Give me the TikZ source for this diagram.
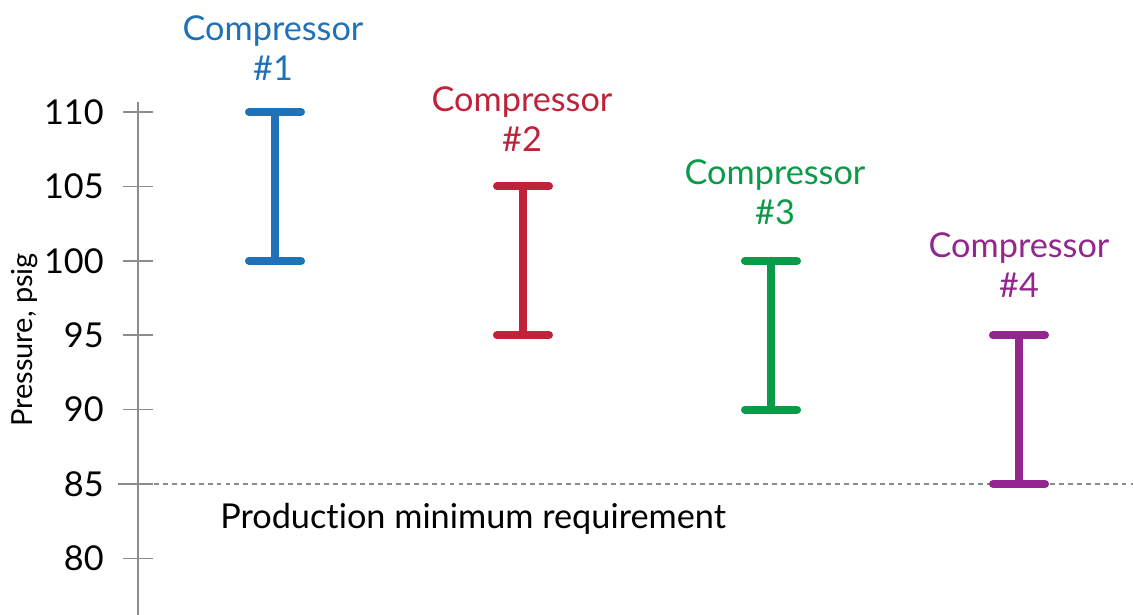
\documentclass[tikz,border=0pt]{standalone}
\usepackage{fontspec}
\setmainfont{Lato}[Ligatures=NoCommon]
\usetikzlibrary{calc}

\definecolor{compblue}{HTML}{1F72B8}
\definecolor{compred}{HTML}{C0223A}
\definecolor{compgreen}{HTML}{0A9A48}
\definecolor{comppurple}{HTML}{93278F}
\definecolor{axisgray}{HTML}{8C8C8C}

\begin{document}
\begin{tikzpicture}[x=0.02cm, y=0.2976cm,
	every node/.style={inner sep=0pt, font=\fontsize{19.5}{22.7}\selectfont},
	axis/.style={draw=axisgray, line width=0.85pt},
	bar/.style={line width=4.6pt, line cap=round}]
\useasboundingbox (0,76.2) rectangle (1133,117.53);

\coordinate (A0) at (138,76.2);
\coordinate (A1) at (138,110.7);
\draw[axis] (A0) -- (A1);
\foreach \p in {80,85,...,110} {
	\node[anchor=east] (L\p) at (104,\p) {\p};
	\draw[axis] (123,\p) -- (153,\p);
}
\node[rotate=90, font=\fontsize{16.5}{18}\selectfont] (ylab) at (25,94.68) {Pressure, psig};

\coordinate (M0) at (118,85);
\coordinate (M1) at (1133,85);
\draw[axisgray, line width=0.85pt, dash pattern=on 2.8pt off 2.3pt] (M0) -- (M1);
\node[anchor=west] (req) at (220,82.65) {Production minimum requirement};

\foreach \i/\x/\lo/\hi/\c/\lx/\ly in {1/275/100/110/compblue/273/114.3,
	2/523/95/105/compred/522/109.53,
	3/771/90/100/compgreen/775/104.59,
	4/1019/85/95/comppurple/1019/99.72} {
	\coordinate (bot\i) at (\x,\lo);
	\coordinate (top\i) at (\x,\hi);
	\draw[bar, \c] (bot\i) -- (top\i)
		($(top\i)+(-26,0)$) -- ($(top\i)+(26,0)$)
		($(bot\i)+(-26,0)$) -- ($(bot\i)+(26,0)$);
	\node[align=center, text=\c] (C\i) at (\lx,\ly) {Compressor\\\#\i};
}
\end{tikzpicture}
\end{document}
